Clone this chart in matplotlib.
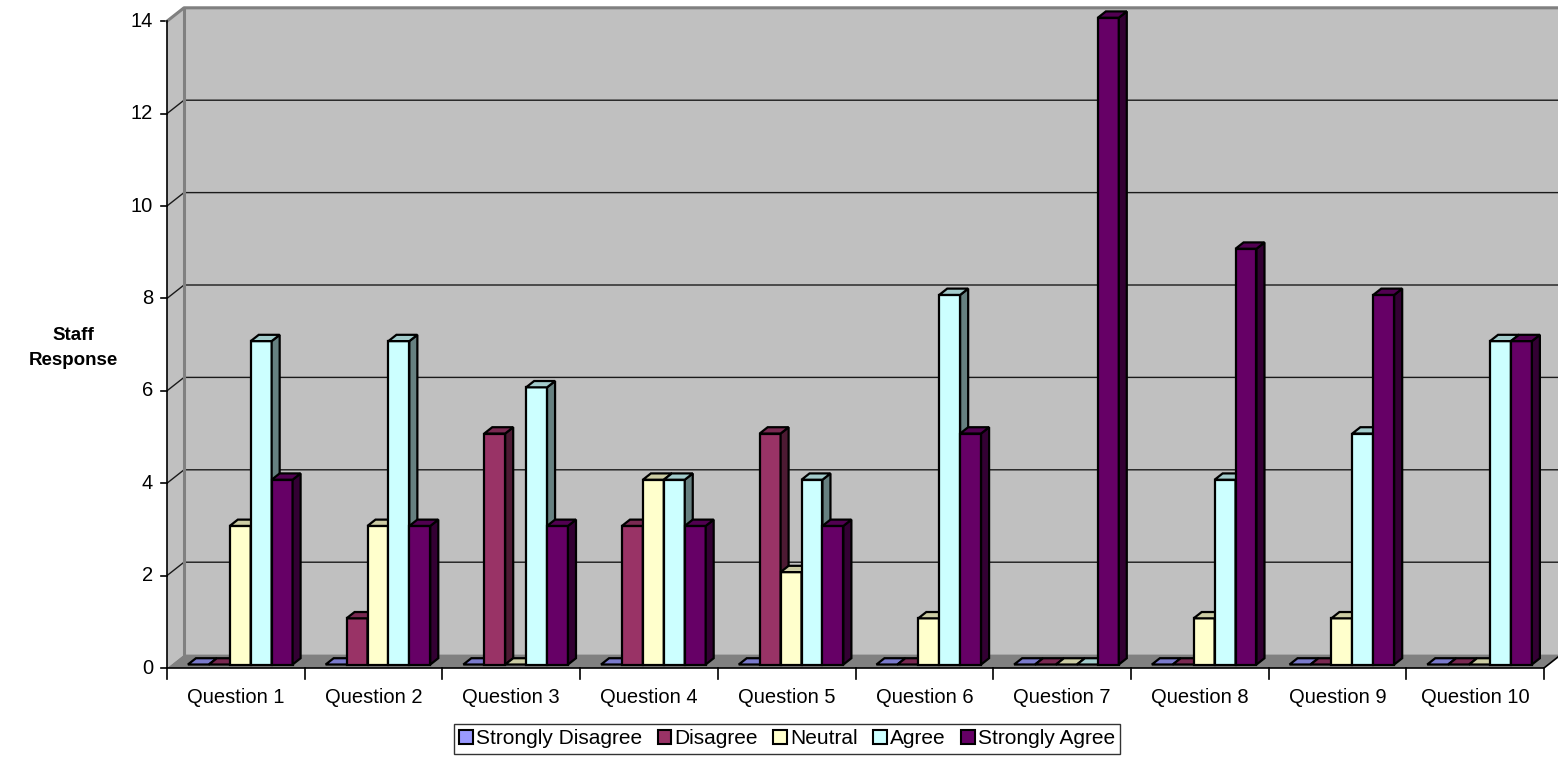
import matplotlib.pyplot as plt
import matplotlib.colors as mcolors
from matplotlib.patches import Polygon, Patch

plt.rcParams["font.family"] = ["Liberation Sans", "DejaVu Sans"]

# --- data -------------------------------------------------------------------
questions = [f"Question {i}" for i in range(1, 11)]
responses = ["Strongly Disagree", "Disagree", "Neutral", "Agree", "Strongly Agree"]
strongly_disagree = [0, 0, 0, 0, 0, 0, 0, 0, 0, 0]
disagree = [0, 1, 5, 3, 5, 0, 0, 0, 0, 0]
neutral = [3, 3, 0, 4, 2, 1, 0, 1, 1, 0]
agree = [7, 7, 6, 4, 4, 8, 0, 4, 5, 7]
strongly_agree = [4, 3, 3, 3, 3, 5, 14, 9, 8, 7]
y_ticks = [0, 2, 4, 6, 8, 10, 12, 14]

series = [strongly_disagree, disagree, neutral, agree, strongly_agree]
colors = ["#9999FF", "#993366", "#FFFFCC", "#CCFFFF", "#660066"]

# --- fake-3D geometry (data units: 1 category wide, 1 response high) -------
DX, DY = 0.1235, 0.29        # full depth offset of the floor / walls
F0, F1 = 0.26, 0.73          # bars sit between these depth fractions
BAR_W = 0.152
GAP = (1 - len(series) * BAR_W) / 2
WALL, FLOOR, EDGE = "#C0C0C0", "#808080", "#808080"


def shade(c, k):
    r, g, b = mcolors.to_rgb(c)
    return (r * k, g * k, b * k)


W_PX, H_PX = 1558, 781
fig = plt.figure(figsize=(W_PX / 100, H_PX / 100), dpi=100)
ax = fig.add_axes([167 / W_PX, (H_PX - 668) / H_PX,
                   (W_PX - 167) / W_PX, (668 - 7) / H_PX])
ax.set_xlim(0, (W_PX - 167) / 137.7)
ax.set_ylim(0, (668 - 7) / 46.2)
ax.axis("off")

n = len(questions)
ymax = max(y_ticks)
xr = ax.get_xlim()[1] + 0.5

# walls and floor
ax.add_patch(Polygon([(DX, DY), (xr, DY), (xr, ymax + DY), (DX, ymax + DY)],
                     fc=WALL, ec="none", zorder=1))
ax.add_patch(Polygon([(0, 0), (DX, DY), (DX, ymax + DY), (0, ymax)],
                     fc=WALL, ec="none", zorder=1))
ax.add_patch(Polygon([(0, 0), (n, 0), (n + DX, DY), (xr, DY), (xr, DY), (DX, DY)],
                     fc=FLOOR, ec="none", zorder=2))
for v in y_ticks[1:-1]:
    ax.plot([0, DX, xr], [v, v + DY, v + DY], color="#1a1a1a", lw=1.0, zorder=3)
ax.plot([0, DX, xr], [ymax, ymax + DY, ymax + DY], color=EDGE, lw=2.2, zorder=3,
        clip_on=False)
ax.plot([DX, DX], [DY, ymax + DY], color=EDGE, lw=2.2, zorder=3)
ax.plot([0, 0], [0, ymax], color="black", lw=1.2, zorder=4, clip_on=False)
ax.plot([0, n, n + DX], [0, 0, DY], color="black", lw=1.2, zorder=4, clip_on=False)

# value axis ticks
for v in y_ticks:
    ax.plot([-0.045, 0], [v, v], color="black", lw=1.2, clip_on=False)
    ax.text(-0.1, v, str(v), ha="right", va="center", fontsize=14.5)

# category ticks and labels
for i, q in enumerate(questions):
    ax.plot([i, i], [0, -0.24], color="black", lw=1.2, clip_on=False)
    ax.text(i + 0.5, -0.63, q, ha="center", va="center", fontsize=14.5)
ax.plot([n, n], [0, -0.24], color="black", lw=1.2, clip_on=False)

# bars
ddx, ddy = (F1 - F0) * DX, (F1 - F0) * DY
for q in range(n):
    for s, vals in enumerate(series):
        v = vals[q]
        c = colors[s]
        x0 = q + GAP + s * BAR_W + F0 * DX
        x1 = x0 + BAR_W
        y0 = F0 * DY
        top = y0 + v
        z = 10 + q * 10 + s * 2
        kw = dict(ec="black", lw=1.6, joinstyle="miter", zorder=z)
        if v > 0:
            ax.add_patch(Polygon([(x0, y0), (x1, y0), (x1, top), (x0, top)], fc=c, **kw))
            ax.add_patch(Polygon([(x1, y0), (x1 + ddx, y0 + ddy), (x1 + ddx, top + ddy),
                                  (x1, top)], fc=shade(c, 0.5), **kw))
        ax.add_patch(Polygon([(x0, top), (x1, top), (x1 + ddx, top + ddy),
                              (x0 + ddx, top + ddy)], fc=shade(c, 0.8), **kw))

fig.text(73 / W_PX, 1 - 348 / H_PX, "Staff\nResponse", ha="center", va="center",
         fontsize=13.5, fontweight="bold", linespacing=1.6)

handles = [Patch(fc=c, ec="black", lw=1.5) for c in colors]
leg = fig.legend(handles, responses, loc="center",
                 bbox_to_anchor=(787 / W_PX, 1 - 739 / H_PX), ncol=5,
                 fontsize=15, frameon=True, fancybox=False, edgecolor="black",
                 handlelength=0.65, handleheight=0.65, handletextpad=0.15,
                 columnspacing=0.75, borderpad=0.25, borderaxespad=0)
leg.get_frame().set_linewidth(1.0)

fig.savefig("out.png", dpi=100)
